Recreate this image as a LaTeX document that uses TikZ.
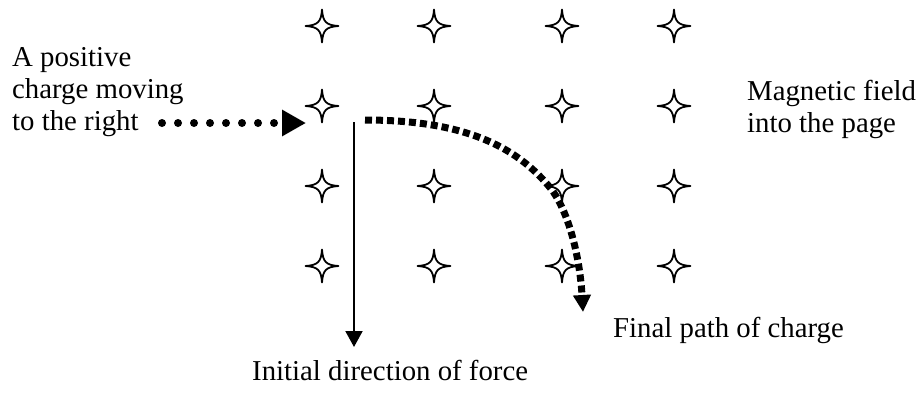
\documentclass[tikz,border=0pt]{standalone}
\usepackage{fontspec}
\setmainfont{Liberation Serif}
\usetikzlibrary{arrows.meta}
\begin{document}
\begin{tikzpicture}[x=1pt,y=-1pt,
  lbl/.style={inner sep=0pt, anchor=base west, align=left, font=\fontsize{28.8}{32}\selectfont},
  fieldstar/.pic={\draw[line width=1.8pt, line join=round]
     (0,-16.5) .. controls (0.9,-4) and (4,-0.9) .. (16.5,0)
     .. controls (4,0.9) and (0.9,4) .. (0,16.5)
     .. controls (-0.9,4) and (-4,0.9) .. (-16.5,0)
     .. controls (-4,-0.9) and (-0.9,-4) .. cycle;},
  dotarrow/.style={line width=8pt, line cap=round, dash pattern=on 0pt off 16pt,
     -{Triangle[length=24pt,width=25pt]}},
  forcearrow/.style={line width=2pt, -{Triangle[length=16pt,width=17pt]}},
  patharrow/.style={line width=7pt, dash pattern=on 7pt off 4pt,
     -{Triangle[length=17pt,width=17pt]}}
]
\useasboundingbox (0,0) rectangle (922,394);
\foreach \x in {322,434,562,674}
  \foreach \y in {26,106,186,266}
    \pic at (\x,\y) {fieldstar};

\node[lbl] (charge) at (12,130) {A positive\\charge moving\\to the right};
\node[lbl] (field) at (747,132) {Magnetic field\\into the page};
\node[lbl] (final) at (613,337) {Final path of charge};
\node[lbl] (initial) at (252,380) {Initial direction of force};

\coordinate (dotstart) at (162,123);
\coordinate (dotend) at (306,123);
\coordinate (forcestart) at (354,122);
\coordinate (forceend) at (354,347);
\coordinate (pathstart) at (365,120);
\coordinate (pathmid) at (552,190);
\coordinate (pathend) at (583,312);

\draw[dotarrow] (dotstart) -- (dotend);
\draw[forcearrow] (forcestart) -- (forceend);
\draw[patharrow] (pathstart) .. controls (470,120) and (520,150) .. (pathmid)
   .. controls (570,215) and (580,260) .. (pathend);
\end{tikzpicture}
\end{document}
